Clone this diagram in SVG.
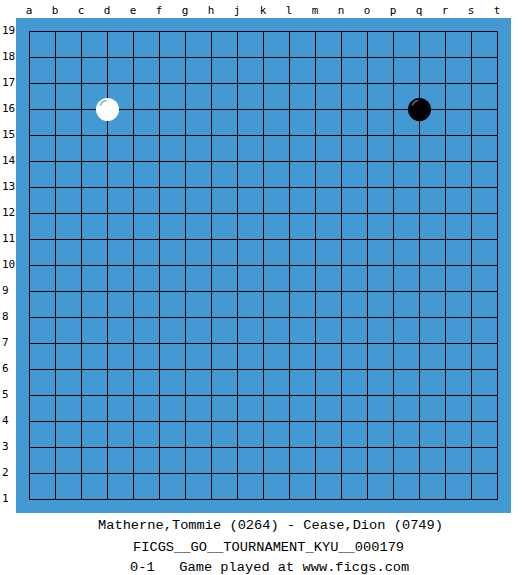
<svg xmlns="http://www.w3.org/2000/svg" width="525" height="575" viewBox="0 0 525 575">
<style>
.lbl{font-family:"DejaVu Sans Mono","Liberation Mono",monospace;font-size:11px;fill:#000}
.col{text-anchor:middle}
.cap{font-family:"Liberation Mono","DejaVu Sans Mono",monospace;font-size:13.7px;fill:#000}
.g{stroke:#000;stroke-width:1;fill:none}
</style>
<rect x="0" y="0" width="525" height="575" fill="#fff"/>
<g id="board">
<rect x="16" y="18" width="495" height="495" fill="#4299d4"/>
</g>
<g id="grid" class="g" transform="translate(0.5 0.5)">
<path d="M29 31V499M55 31V499M81 31V499M107 31V499M133 31V499M159 31V499M185 31V499M211 31V499M237 31V499M263 31V499M289 31V499M315 31V499M341 31V499M367 31V499M393 31V499M419 31V499M445 31V499M471 31V499M497 31V499"/>
<path d="M29 31H497M29 57H497M29 83H497M29 109H497M29 135H497M29 161H497M29 187H497M29 213H497M29 239H497M29 265H497M29 291H497M29 317H497M29 343H497M29 369H497M29 395H497M29 421H497M29 447H497M29 473H497M29 499H497"/>
</g>
<g id="col-labels" class="lbl col">
<text x="29" y="14">a</text><text x="55" y="14">b</text><text x="81" y="14">c</text><text x="107" y="14">d</text><text x="133" y="14">e</text><text x="159" y="14">f</text><text x="185" y="14">g</text><text x="211" y="14">h</text><text x="237" y="14">j</text><text x="263" y="14">k</text><text x="289" y="14">l</text><text x="315" y="14">m</text><text x="341" y="14">n</text><text x="367" y="14">o</text><text x="393" y="14">p</text><text x="419" y="14">q</text><text x="445" y="14">r</text><text x="471" y="14">s</text><text x="497" y="14">t</text>
</g>
<g id="row-labels" class="lbl">
<text x="2" y="34">19</text><text x="2" y="60">18</text><text x="2" y="86">17</text><text x="2" y="112">16</text><text x="2" y="138">15</text><text x="2" y="164">14</text><text x="2" y="190">13</text><text x="2" y="216">12</text><text x="2" y="242">11</text><text x="2" y="268">10</text><text x="2" y="294">9</text><text x="2" y="320">8</text><text x="2" y="346">7</text><text x="2" y="372">6</text><text x="2" y="398">5</text><text x="2" y="424">4</text><text x="2" y="450">3</text><text x="2" y="476">2</text><text x="2" y="502">1</text>
</g>
<g id="stone-d16">
<circle cx="107.5" cy="109.5" r="11.5" fill="#fff"/>
<path d="M100.5 105.5 A7 7 0 0 1 106.5 100.5" stroke="#4299d4" stroke-width="1.2" fill="none"/>
</g>
<g id="stone-q16">
<circle cx="419.5" cy="109.5" r="11.5" fill="#000"/>
<path d="M412.5 105.5 A7 7 0 0 1 418.5 100.5" stroke="#888" stroke-width="1.2" fill="none"/>
</g>
<g id="caption" class="cap">
<text x="98" y="529">Matherne,Tommie (0264) - Cease,Dion (0749)</text>
<text x="133" y="551">FICGS__GO__TOURNAMENT_KYU__000179</text>
<text x="130" y="571" xml:space="preserve">0-1   Game played at www.ficgs.com</text>
</g>
</svg>
